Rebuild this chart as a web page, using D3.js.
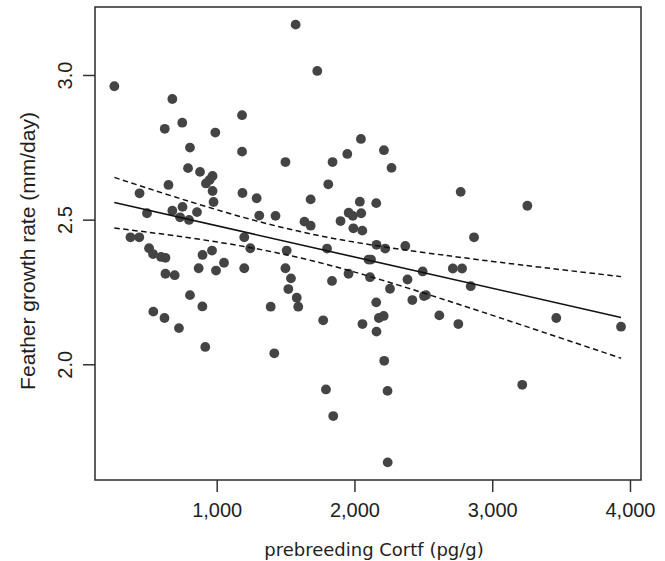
<!DOCTYPE html>
<html>
<head>
<meta charset="utf-8">
<script src="https://cdn.jsdelivr.net/npm/d3@7"></script>
<style>
    html, body { margin: 0; padding: 0; background: #fff; }
    #chart { width: 665px; height: 561px; }
</style>
</head>
<body>
<div id="chart"></div>
<script>
// Datos: cortf (pg/g) y tasa de crecimiento (mm/day)
let cortf = [257, 1573, 1730, 678, 623, 750, 1184, 990, 806, 1184,
    792, 879, 1499, 1841, 970, 948, 922, 650, 1810, 440,
    970, 1187, 1290, 1682, 977, 752, 678, 494, 857, 734,
    799, 1309, 1427, 1637, 1682, 1899, 374, 438, 1200, 509,
    538, 596, 628, 897, 966, 1244, 1508, 1801, 869, 995,
    1053, 1200, 1499, 628, 695, 1539, 2047, 1948, 2214, 2269,
    2771, 3255, 2039, 2158, 1958, 1988, 2049, 1992, 2057, 2868,
    2160, 2223, 2369, 2102, 2120, 2495, 2714, 2781, 1957, 2113,
    2385, 1837, 1520, 1581, 1592, 806, 896, 540, 621, 726,
    1392, 1773, 917, 1418, 1793, 1846, 2258, 2844, 2158, 2420,
    2505, 2519, 2058, 2177, 2212, 2160, 2616, 2754, 3465, 3935,
    2216, 2240, 3218, 2241];
let growth = [2.961, 3.174, 3.014, 2.917, 2.814, 2.835, 2.861, 2.801, 2.749, 2.735,
    2.678, 2.665, 2.699, 2.699, 2.651, 2.637, 2.625, 2.620, 2.622, 2.591,
    2.599, 2.592, 2.574, 2.570, 2.561, 2.544, 2.531, 2.522, 2.526, 2.508,
    2.499, 2.514, 2.513, 2.493, 2.479, 2.495, 2.439, 2.439, 2.439, 2.401,
    2.381, 2.371, 2.368, 2.378, 2.393, 2.401, 2.393, 2.400, 2.332, 2.324,
    2.351, 2.332, 2.332, 2.313, 2.308, 2.297, 2.779, 2.727, 2.740, 2.679,
    2.596, 2.548, 2.562, 2.557, 2.524, 2.513, 2.522, 2.470, 2.462, 2.439,
    2.413, 2.400, 2.409, 2.362, 2.362, 2.321, 2.331, 2.331, 2.313, 2.301,
    2.293, 2.288, 2.260, 2.230, 2.199, 2.239, 2.200, 2.182, 2.160, 2.125,
    2.199, 2.152, 2.060, 2.038, 1.913, 1.821, 2.261, 2.270, 2.214, 2.222,
    2.236, 2.239, 2.139, 2.160, 2.167, 2.113, 2.169, 2.139, 2.160, 2.130,
    2.012, 1.908, 1.929, 1.661];

// Recta ajustada y bandas de confianza
let fitX = [257, 3935];
let fitY = [2.559, 2.162];
let bandX = [257, 700, 1200, 1700, 2200, 2700, 3200, 3935];
let bandUpper = [2.646, 2.578, 2.507, 2.449, 2.407, 2.374, 2.344, 2.303];
let bandLower = [2.471, 2.444, 2.407, 2.357, 2.291, 2.216, 2.138, 2.021];

let xTicks = [1000, 2000, 3000, 4000];
let yTicks = [2.0, 2.5, 3.0];

let margin = {top: 7, right: 24, bottom: 81, left: 95};
let width = 665 - margin.left - margin.right,
    height = 561 - margin.top - margin.bottom;

let svg = d3.select('#chart')
    .append('svg')
        .attr('width', 665)
        .attr('height', 561);

let chart = svg.append('g')
    .attr('transform', 'translate(' + margin.left + ',' + margin.top + ')');

let x = d3.scaleLinear()
    .domain([116.6, 4080])
    .range([0, width]);

let y = d3.scaleLinear()
    .domain([1.6, 3.235])
    .range([height, 0]);

// Ejes
let xAxis = chart.append('g')
    .attr('transform', 'translate(0,' + height + ')')
    .call(d3.axisBottom(x).tickValues(xTicks).tickFormat(d3.format(',')).tickSize(12));

xAxis.select('.domain').remove();
xAxis.selectAll('line').attr('stroke', '#333').attr('stroke-width', 1.5);
xAxis.selectAll('text')
    .attr('y', 37)
    .attr('dy', 0)
    .attr('fill', '#1e1e1e')
    .style('font-family', '"Liberation Sans", Arial, sans-serif')
    .style('font-size', '20px');

let yAxis = chart.append('g')
    .call(d3.axisLeft(y).tickValues(yTicks).tickFormat(d3.format('.1f')).tickSize(12));

yAxis.select('.domain').remove();
yAxis.selectAll('line').attr('stroke', '#333').attr('stroke-width', 1.5);
yAxis.selectAll('text')
    .attr('transform', 'rotate(-90)')
    .attr('x', 0)
    .attr('y', -23.5)
    .attr('dy', 0)
    .attr('text-anchor', 'middle')
    .attr('fill', '#1e1e1e')
    .style('font-family', '"Liberation Sans", Arial, sans-serif')
    .style('font-size', '20px');

// Marco
chart.append('rect')
    .attr('x', 0)
    .attr('y', 0)
    .attr('width', width)
    .attr('height', height)
    .attr('fill', 'none')
    .attr('stroke', '#2b2b2b')
    .attr('stroke-width', 1.5);

// Puntos
chart.selectAll('.dot')
    .data(cortf.map(function(d, i) { return {cortf: d, growth: growth[i]}; }))
    .enter()
    .append('circle')
    .attr('class', 'dot')
    .attr('cx', function(d) { return x(d.cortf); })
    .attr('cy', function(d) { return y(d.growth); })
    .attr('r', 4.9)
    .attr('fill', '#444');

// Recta de regresión
let fitLine = d3.line()
    .x(function(d) { return x(d[0]); })
    .y(function(d) { return y(d[1]); });

chart.append('path')
    .attr('fill', 'none')
    .attr('stroke', '#111')
    .attr('stroke-width', 1.6)
    .attr('d', fitLine(fitX.map(function(d, i) { return [d, fitY[i]]; })));

// Bandas de confianza
let bandLine = d3.line()
    .x(function(d) { return x(d[0]); })
    .y(function(d) { return y(d[1]); })
    .curve(d3.curveNatural);

[bandUpper, bandLower].forEach(function(band) {
    chart.append('path')
        .attr('fill', 'none')
        .attr('stroke', '#111')
        .attr('stroke-width', 1.5)
        .attr('stroke-dasharray', '5.5,3.5')
        .attr('d', bandLine(bandX.map(function(d, i) { return [d, band[i]]; })));
});

// Títulos de los ejes
svg.append('text')
    .attr('x', 374)
    .attr('y', 556)
    .attr('text-anchor', 'middle')
    .attr('fill', '#1e1e1e')
    .style('font-family', '"DejaVu Sans", Verdana, sans-serif')
    .style('font-size', '18px')
    .text('prebreeding Cortf (pg/g)');

svg.append('text')
    .attr('transform', 'translate(35,251) rotate(-90)')
    .attr('text-anchor', 'middle')
    .attr('fill', '#1e1e1e')
    .style('font-family', '"Liberation Sans", Arial, sans-serif')
    .style('font-size', '21px')
    .text('Feather growth rate (mm/day)');
</script>
</body>
</html>
